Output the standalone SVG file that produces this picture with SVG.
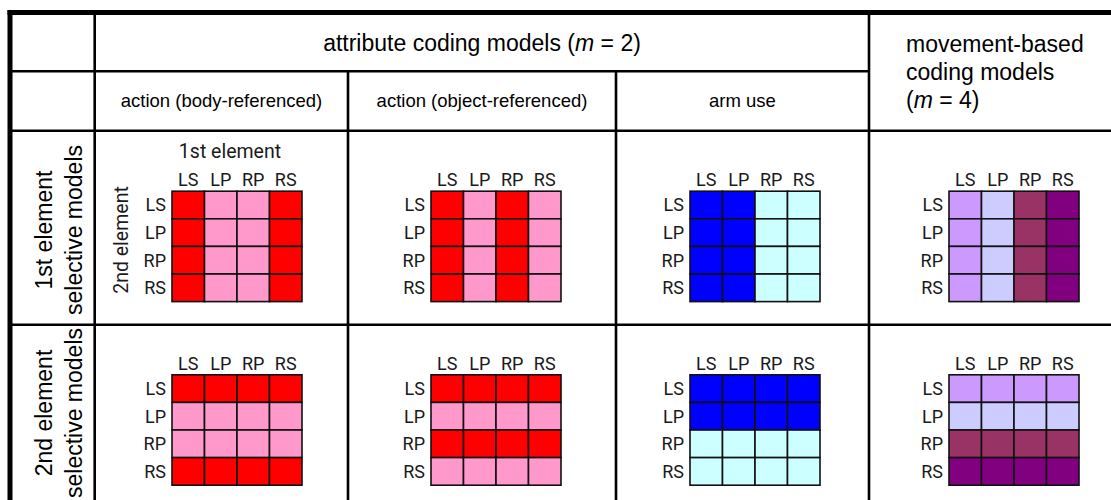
<svg xmlns="http://www.w3.org/2000/svg" width="1111" height="500" viewBox="0 0 1111 500">
<style>
.bg{fill:#fff}
.tl{stroke:#000;stroke-width:2.6;fill:none}
.tb{stroke:#000;stroke-width:5;fill:none}
.hdr{font-family:"Liberation Sans",Arial,sans-serif;font-size:23px;fill:#000}
.sub{font-family:"Liberation Sans",Arial,sans-serif;font-size:18.5px;fill:#000}
.lbl{font-family:Roboto,"Liberation Sans",sans-serif;font-size:18px;fill:#1a1a1a}
.ax{font-family:Roboto,"Liberation Sans",sans-serif;font-size:19.5px;fill:#1a1a1a}
.mid{text-anchor:middle}
.end{text-anchor:end}
rect.k{stroke:#111;stroke-width:1.6}
.r{fill:#FF0000}.p{fill:#FF99CC}.b{fill:#0000FF}.c{fill:#CCFFFF}
.l{fill:#CC99FF}.w{fill:#CCCCFF}.m{fill:#993366}.u{fill:#800080}
</style>
<rect class="bg" x="0" y="0" width="1111" height="500"/>

<g id="table-lines">
<line class="tl" x1="10" y1="71.3" x2="869" y2="71.3"/>
<line class="tl" x1="10" y1="130.7" x2="1111" y2="130.7"/>
<line class="tl" x1="10" y1="324.7" x2="1111" y2="324.7"/>
<line class="tl" x1="94.7" y1="12" x2="94.7" y2="500"/>
<line class="tl" x1="348" y1="71" x2="348" y2="500"/>
<line class="tl" x1="616" y1="71" x2="616" y2="500"/>
<line class="tl" x1="869" y1="12" x2="869" y2="500"/>
<line class="tb" x1="7.5" y1="12.5" x2="1111" y2="12.5"/>
<line class="tb" x1="10" y1="10" x2="10" y2="500"/>
</g>

<g id="hdr-attribute"><text class="hdr mid" x="482" y="51">attribute coding models (<tspan font-style="italic">m</tspan> = 2)</text></g>
<g id="hdr-movement"><text class="hdr" x="906"><tspan x="906" y="52">movement-based</tspan><tspan x="906" y="80">coding models</tspan><tspan x="906" y="108">(<tspan font-style="italic">m</tspan> = 4)</tspan></text></g>
<g id="hdr-body"><text class="sub mid" x="221.5" y="107">action (body-referenced)</text></g>
<g id="hdr-object"><text class="sub mid" x="482" y="107">action (object-referenced)</text></g>
<g id="hdr-arm"><text class="sub mid" x="742.5" y="107">arm use</text></g>

<g id="row1-label"><text class="hdr mid" transform="rotate(-90 52 230)" x="52" y="230">1st element</text><text class="hdr mid" transform="rotate(-90 82 230)" x="82" y="230">selective models</text></g>
<g id="row2-label"><text class="hdr mid" transform="rotate(-90 52 413)" x="52" y="413">2nd element</text><text class="hdr mid" transform="rotate(-90 82 413)" x="82" y="413">selective models</text></g>

<g id="axis-labels">
<text class="ax mid" x="230" y="158">1st element</text>
<text class="ax mid" transform="rotate(-90 128 240)" x="128" y="240">2nd element</text>
</g>

<defs>
<g id="collbl">
<text class="lbl mid" x="16.25" y="-5">LS</text><text class="lbl mid" x="48.75" y="-5">LP</text><text class="lbl mid" x="81.25" y="-5">RP</text><text class="lbl mid" x="113.75" y="-5">RS</text>
<text class="lbl end" x="-6" y="20.3">LS</text><text class="lbl end" x="-6" y="47.9">LP</text><text class="lbl end" x="-6" y="75.5">RP</text><text class="lbl end" x="-6" y="103.1">RS</text>
</g>
</defs>

<g id="grid-r1-body" transform="translate(172 191.2)">
<use href="#collbl"/>
<rect class="k r" x="0" y="0" width="32.5" height="27.6"/><rect class="k p" x="32.5" y="0" width="32.5" height="27.6"/><rect class="k p" x="65" y="0" width="32.5" height="27.6"/><rect class="k r" x="97.5" y="0" width="32.5" height="27.6"/>
<rect class="k r" x="0" y="27.6" width="32.5" height="27.6"/><rect class="k p" x="32.5" y="27.6" width="32.5" height="27.6"/><rect class="k p" x="65" y="27.6" width="32.5" height="27.6"/><rect class="k r" x="97.5" y="27.6" width="32.5" height="27.6"/>
<rect class="k r" x="0" y="55.2" width="32.5" height="27.6"/><rect class="k p" x="32.5" y="55.2" width="32.5" height="27.6"/><rect class="k p" x="65" y="55.2" width="32.5" height="27.6"/><rect class="k r" x="97.5" y="55.2" width="32.5" height="27.6"/>
<rect class="k r" x="0" y="82.8" width="32.5" height="27.6"/><rect class="k p" x="32.5" y="82.8" width="32.5" height="27.6"/><rect class="k p" x="65" y="82.8" width="32.5" height="27.6"/><rect class="k r" x="97.5" y="82.8" width="32.5" height="27.6"/>
</g>

<g id="grid-r1-object" transform="translate(431 191.2)">
<use href="#collbl"/>
<rect class="k r" x="0" y="0" width="32.5" height="27.6"/><rect class="k p" x="32.5" y="0" width="32.5" height="27.6"/><rect class="k r" x="65" y="0" width="32.5" height="27.6"/><rect class="k p" x="97.5" y="0" width="32.5" height="27.6"/>
<rect class="k r" x="0" y="27.6" width="32.5" height="27.6"/><rect class="k p" x="32.5" y="27.6" width="32.5" height="27.6"/><rect class="k r" x="65" y="27.6" width="32.5" height="27.6"/><rect class="k p" x="97.5" y="27.6" width="32.5" height="27.6"/>
<rect class="k r" x="0" y="55.2" width="32.5" height="27.6"/><rect class="k p" x="32.5" y="55.2" width="32.5" height="27.6"/><rect class="k r" x="65" y="55.2" width="32.5" height="27.6"/><rect class="k p" x="97.5" y="55.2" width="32.5" height="27.6"/>
<rect class="k r" x="0" y="82.8" width="32.5" height="27.6"/><rect class="k p" x="32.5" y="82.8" width="32.5" height="27.6"/><rect class="k r" x="65" y="82.8" width="32.5" height="27.6"/><rect class="k p" x="97.5" y="82.8" width="32.5" height="27.6"/>
</g>

<g id="grid-r1-arm" transform="translate(690 191.2)">
<use href="#collbl"/>
<rect class="k b" x="0" y="0" width="32.5" height="27.6"/><rect class="k b" x="32.5" y="0" width="32.5" height="27.6"/><rect class="k c" x="65" y="0" width="32.5" height="27.6"/><rect class="k c" x="97.5" y="0" width="32.5" height="27.6"/>
<rect class="k b" x="0" y="27.6" width="32.5" height="27.6"/><rect class="k b" x="32.5" y="27.6" width="32.5" height="27.6"/><rect class="k c" x="65" y="27.6" width="32.5" height="27.6"/><rect class="k c" x="97.5" y="27.6" width="32.5" height="27.6"/>
<rect class="k b" x="0" y="55.2" width="32.5" height="27.6"/><rect class="k b" x="32.5" y="55.2" width="32.5" height="27.6"/><rect class="k c" x="65" y="55.2" width="32.5" height="27.6"/><rect class="k c" x="97.5" y="55.2" width="32.5" height="27.6"/>
<rect class="k b" x="0" y="82.8" width="32.5" height="27.6"/><rect class="k b" x="32.5" y="82.8" width="32.5" height="27.6"/><rect class="k c" x="65" y="82.8" width="32.5" height="27.6"/><rect class="k c" x="97.5" y="82.8" width="32.5" height="27.6"/>
</g>

<g id="grid-r1-movement" transform="translate(949 191.2)">
<use href="#collbl"/>
<rect class="k l" x="0" y="0" width="32.5" height="27.6"/><rect class="k w" x="32.5" y="0" width="32.5" height="27.6"/><rect class="k m" x="65" y="0" width="32.5" height="27.6"/><rect class="k u" x="97.5" y="0" width="32.5" height="27.6"/>
<rect class="k l" x="0" y="27.6" width="32.5" height="27.6"/><rect class="k w" x="32.5" y="27.6" width="32.5" height="27.6"/><rect class="k m" x="65" y="27.6" width="32.5" height="27.6"/><rect class="k u" x="97.5" y="27.6" width="32.5" height="27.6"/>
<rect class="k l" x="0" y="55.2" width="32.5" height="27.6"/><rect class="k w" x="32.5" y="55.2" width="32.5" height="27.6"/><rect class="k m" x="65" y="55.2" width="32.5" height="27.6"/><rect class="k u" x="97.5" y="55.2" width="32.5" height="27.6"/>
<rect class="k l" x="0" y="82.8" width="32.5" height="27.6"/><rect class="k w" x="32.5" y="82.8" width="32.5" height="27.6"/><rect class="k m" x="65" y="82.8" width="32.5" height="27.6"/><rect class="k u" x="97.5" y="82.8" width="32.5" height="27.6"/>
</g>

<g id="grid-r2-body" transform="translate(172 374.8)">
<use href="#collbl"/>
<rect class="k r" x="0" y="0" width="32.5" height="27.6"/><rect class="k r" x="32.5" y="0" width="32.5" height="27.6"/><rect class="k r" x="65" y="0" width="32.5" height="27.6"/><rect class="k r" x="97.5" y="0" width="32.5" height="27.6"/>
<rect class="k p" x="0" y="27.6" width="32.5" height="27.6"/><rect class="k p" x="32.5" y="27.6" width="32.5" height="27.6"/><rect class="k p" x="65" y="27.6" width="32.5" height="27.6"/><rect class="k p" x="97.5" y="27.6" width="32.5" height="27.6"/>
<rect class="k p" x="0" y="55.2" width="32.5" height="27.6"/><rect class="k p" x="32.5" y="55.2" width="32.5" height="27.6"/><rect class="k p" x="65" y="55.2" width="32.5" height="27.6"/><rect class="k p" x="97.5" y="55.2" width="32.5" height="27.6"/>
<rect class="k r" x="0" y="82.8" width="32.5" height="27.6"/><rect class="k r" x="32.5" y="82.8" width="32.5" height="27.6"/><rect class="k r" x="65" y="82.8" width="32.5" height="27.6"/><rect class="k r" x="97.5" y="82.8" width="32.5" height="27.6"/>
</g>

<g id="grid-r2-object" transform="translate(431 374.8)">
<use href="#collbl"/>
<rect class="k r" x="0" y="0" width="32.5" height="27.6"/><rect class="k r" x="32.5" y="0" width="32.5" height="27.6"/><rect class="k r" x="65" y="0" width="32.5" height="27.6"/><rect class="k r" x="97.5" y="0" width="32.5" height="27.6"/>
<rect class="k p" x="0" y="27.6" width="32.5" height="27.6"/><rect class="k p" x="32.5" y="27.6" width="32.5" height="27.6"/><rect class="k p" x="65" y="27.6" width="32.5" height="27.6"/><rect class="k p" x="97.5" y="27.6" width="32.5" height="27.6"/>
<rect class="k r" x="0" y="55.2" width="32.5" height="27.6"/><rect class="k r" x="32.5" y="55.2" width="32.5" height="27.6"/><rect class="k r" x="65" y="55.2" width="32.5" height="27.6"/><rect class="k r" x="97.5" y="55.2" width="32.5" height="27.6"/>
<rect class="k p" x="0" y="82.8" width="32.5" height="27.6"/><rect class="k p" x="32.5" y="82.8" width="32.5" height="27.6"/><rect class="k p" x="65" y="82.8" width="32.5" height="27.6"/><rect class="k p" x="97.5" y="82.8" width="32.5" height="27.6"/>
</g>

<g id="grid-r2-arm" transform="translate(690 374.8)">
<use href="#collbl"/>
<rect class="k b" x="0" y="0" width="32.5" height="27.6"/><rect class="k b" x="32.5" y="0" width="32.5" height="27.6"/><rect class="k b" x="65" y="0" width="32.5" height="27.6"/><rect class="k b" x="97.5" y="0" width="32.5" height="27.6"/>
<rect class="k b" x="0" y="27.6" width="32.5" height="27.6"/><rect class="k b" x="32.5" y="27.6" width="32.5" height="27.6"/><rect class="k b" x="65" y="27.6" width="32.5" height="27.6"/><rect class="k b" x="97.5" y="27.6" width="32.5" height="27.6"/>
<rect class="k c" x="0" y="55.2" width="32.5" height="27.6"/><rect class="k c" x="32.5" y="55.2" width="32.5" height="27.6"/><rect class="k c" x="65" y="55.2" width="32.5" height="27.6"/><rect class="k c" x="97.5" y="55.2" width="32.5" height="27.6"/>
<rect class="k c" x="0" y="82.8" width="32.5" height="27.6"/><rect class="k c" x="32.5" y="82.8" width="32.5" height="27.6"/><rect class="k c" x="65" y="82.8" width="32.5" height="27.6"/><rect class="k c" x="97.5" y="82.8" width="32.5" height="27.6"/>
</g>

<g id="grid-r2-movement" transform="translate(949 374.8)">
<use href="#collbl"/>
<rect class="k l" x="0" y="0" width="32.5" height="27.6"/><rect class="k l" x="32.5" y="0" width="32.5" height="27.6"/><rect class="k l" x="65" y="0" width="32.5" height="27.6"/><rect class="k l" x="97.5" y="0" width="32.5" height="27.6"/>
<rect class="k w" x="0" y="27.6" width="32.5" height="27.6"/><rect class="k w" x="32.5" y="27.6" width="32.5" height="27.6"/><rect class="k w" x="65" y="27.6" width="32.5" height="27.6"/><rect class="k w" x="97.5" y="27.6" width="32.5" height="27.6"/>
<rect class="k m" x="0" y="55.2" width="32.5" height="27.6"/><rect class="k m" x="32.5" y="55.2" width="32.5" height="27.6"/><rect class="k m" x="65" y="55.2" width="32.5" height="27.6"/><rect class="k m" x="97.5" y="55.2" width="32.5" height="27.6"/>
<rect class="k u" x="0" y="82.8" width="32.5" height="27.6"/><rect class="k u" x="32.5" y="82.8" width="32.5" height="27.6"/><rect class="k u" x="65" y="82.8" width="32.5" height="27.6"/><rect class="k u" x="97.5" y="82.8" width="32.5" height="27.6"/>
</g>
</svg>
